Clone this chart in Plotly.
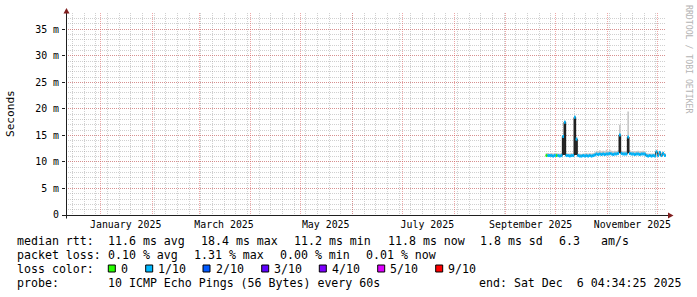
import plotly.graph_objects as go
import pandas as pd

# ---------------- data ----------------
range_start = "2024-12-11 04:34:25"
range_end = "2025-12-06 04:34:25"
first_day = "2025-09-25"

# daily median rtt (ms), Sep 25 .. Dec 6 2025
median_ms = [
    11.2, 11.2, 11.2, 11.2, 11.1, 11.2, 11.2, 11.2, 11.1, 11.2,
    14.8, 17.5, 11.2, 11.2, 11.1, 11.2, 11.2, 18.4, 14.3, 11.2,
    11.1, 11.1, 11.2, 11.1, 11.2, 11.1, 11.2, 11.1, 11.2, 11.3,
    11.5, 11.4, 11.5, 11.4, 11.5, 11.4, 11.5, 11.5, 11.6, 11.5,
    11.4, 11.5, 11.5, 11.6, 15.1, 11.6, 11.5, 11.5, 11.5, 14.7,
    11.6, 11.5, 11.5, 11.4, 11.5, 11.5, 11.4, 11.5, 11.5, 11.5,
    11.2, 11.1, 11.2, 11.1, 11.2, 11.1, 11.9, 11.2, 11.8, 11.2,
    11.6, 11.2, 11.2,
]
# upper edge of the light smoke (ms)
smoke_hi_ms = [
    11.7, 11.7, 11.6, 11.7, 11.6, 11.7, 11.7, 11.6, 11.6, 11.7,
    15.0, 17.8, 11.7, 11.6, 11.6, 11.7, 11.6, 18.7, 14.6, 11.6,
    11.6, 11.5, 11.6, 11.6, 11.7, 11.6, 11.7, 11.6, 11.7, 11.8,
    12.1, 12.0, 12.2, 12.0, 12.1, 12.0, 12.3, 12.0, 12.3, 12.1,
    12.0, 12.1, 12.0, 12.2, 17.0, 12.1, 12.0, 12.0, 12.1, 19.5,
    12.2, 12.0, 12.0, 12.0, 12.0, 12.1, 12.0, 12.0, 12.1, 12.0,
    11.7, 11.6, 11.6, 11.6, 11.6, 11.6, 12.3, 11.6, 12.1, 11.6,
    11.9, 11.6, 11.6,
]
# lower edge of the dense (dark) smoke on spike days (ms), None = no dense smoke
dense_lo_ms = [None] * len(median_ms)
for _i, _v in [(10, 11.3), (11, 11.3), (17, 11.3), (18, 11.3), (44, 11.6), (49, 11.6)]:
    dense_lo_ms[_i] = _v
# loss level per day (0 = none, 1 = 1/10)
loss_level = [0] + [1] * 5 + [0] + [1] * 66

month_grid = ["2025-%02d-01" % m for m in range(1, 13)]
month_label_dates = ["2025-01-16", "2025-03-16", "2025-05-16",
                     "2025-07-16", "2025-09-16", "2025-11-16"]
month_labels = ["January 2025", "March 2025", "May 2025",
                "July 2025", "September 2025", "November 2025"]
y_ticks = [0, 5, 10, 15, 20, 25, 30, 35]
y_ticktext = ["0"] + ["%d m" % v for v in y_ticks[1:]]

loss_names = ["0", "1/10", "2/10", "3/10", "4/10", "5/10", "9/10"]
loss_colors = ["#26ff00", "#00b8ff", "#0059ff", "#5e00ff", "#7e00ff", "#dd00ff", "#ff0000"]

stats_rtt = ["median rtt:", "11.6 ms avg", "18.4 ms max", "11.2 ms min",
             "11.8 ms now", "1.8 ms sd", "6.3", "am/s"]
stats_loss = ["packet loss:", "0.10 % avg", "1.31 % max", "0.00 % min", "0.01 % now"]
probe_text = ["probe:", "10 ICMP Echo Pings (56 Bytes) every 60s",
              "end: Sat Dec  6 04:34:25 2025"]

# ---------------- layout constants ----------------
W, H = 697, 297
L, R, T, B = 66, 666, 13, 215
YMAX = 38.07
FONT = "DejaVu Sans Mono"
DAY_MS = 86400000


def px(x):
    return (x - L) / (R - L)


def py(y):
    return (B - y) / (B - T)


days = pd.date_range(first_day, periods=len(median_ms), freq="D")
days_ext = list(days) + [pd.Timestamp(range_end)]
smoke_lo = [m - 0.15 for m in median_ms]

fig = go.Figure()

# empty helper trace so the grid axis (x2) is built
fig.add_trace(go.Scatter(x=[range_start, range_end], y=[None, None], xaxis="x2",
                         mode="lines", hoverinfo="skip", showlegend=False))
# dense smoke on spike days
dx, dbase, dh = [], [], []
for i, lo in enumerate(dense_lo_ms):
    if lo is not None:
        dx.append(days[i])
        dbase.append(lo)
        dh.append(median_ms[i] - lo)
fig.add_trace(go.Bar(x=dx, y=dh, base=dbase, width=DAY_MS, offset=0,
                     marker=dict(color="#262626", line=dict(width=0)),
                     hoverinfo="skip", showlegend=False))
# light smoke
fig.add_trace(go.Scatter(x=days_ext, y=smoke_lo + [smoke_lo[-1]], mode="lines",
                         line=dict(width=0, shape="hv"), hoverinfo="skip",
                         showlegend=False))
fig.add_trace(go.Scatter(x=days_ext, y=smoke_hi_ms + [smoke_hi_ms[-1]], mode="lines",
                         line=dict(width=0, shape="hv"), fill="tonexty",
                         fillcolor="#c8c8c8", hoverinfo="skip", showlegend=False))
# median line
fig.add_trace(go.Scatter(x=days_ext, y=median_ms + [median_ms[-1]], mode="lines",
                         line=dict(width=1, shape="hv", color="#202020"),
                         hoverinfo="skip", showlegend=False))
# loss-coloured swath
for lvl in sorted(set(loss_level)):
    xs, ys = [], []
    for i, m in enumerate(median_ms):
        if loss_level[i] == lvl:
            xs += [days_ext[i], days_ext[i + 1], None]
            ys += [m, m, None]
    fig.add_trace(go.Scatter(x=xs, y=ys, mode="lines",
                             line=dict(width=3, color=loss_colors[lvl]),
                             hoverinfo="skip", showlegend=False))

grid_minor = "rgba(143,143,143,0.42)"
grid_major = "rgba(222,79,79,0.5)"

fig.update_layout(
    width=W, height=H,
    margin=dict(l=L, r=W - R, t=T, b=H - B, pad=0),
    paper_bgcolor="white", plot_bgcolor="white",
    font=dict(family=FONT, color="black"),
    showlegend=False, bargap=0,
    xaxis=dict(type="date", range=[range_start, range_end],
               tickmode="array", tickvals=month_label_dates, ticktext=month_labels,
               showgrid=False, zeroline=False, showline=False, ticks="",
               tickfont=dict(family=FONT, size=9.9, color="black"),
               ticklabelstandoff=2),
    xaxis2=dict(type="date", range=[range_start, range_end], overlaying="x",
                anchor="y", side="bottom", tickmode="array", tickvals=month_grid,
                showticklabels=False, showgrid=True, gridcolor=grid_major,
                griddash="1px,1px", gridwidth=1, zeroline=False, showline=False,
                ticks="",
                minor=dict(tick0="2024-12-29", dtick=604800000, showgrid=True,
                           gridcolor=grid_minor, griddash="1px,1px", gridwidth=1)),
    yaxis=dict(range=[0, YMAX], tickmode="array", tickvals=y_ticks,
               ticktext=y_ticktext, showgrid=True, gridcolor=grid_major,
               griddash="1px,1px", zeroline=False, showline=False,
               ticks="outside", ticklen=3, tickcolor="#1f1f1f",
               tickfont=dict(family=FONT, size=9.9, color="black"),
               ticklabelstandoff=1,
               minor=dict(dtick=1, tick0=0, showgrid=True, gridcolor=grid_minor,
                          griddash="1px,1px")),
)

shapes = []
# axes
shapes.append(dict(type="line", xref="paper", yref="paper",
                   x0=px(63), x1=px(669), y0=py(215.5), y1=py(215.5),
                   line=dict(color="#1f1f1f", width=1)))
shapes.append(dict(type="line", xref="paper", yref="paper",
                   x0=px(66.5), x1=px(66.5), y0=py(218.5), y1=py(11),
                   line=dict(color="#1f1f1f", width=1)))
# arrows
shapes.append(dict(type="path", xref="paper", yref="paper",
                   path="M %f %f L %f %f L %f %f Z" % (px(63.5), py(13.5), px(69.5), py(13.5), px(66.5), py(8)),
                   fillcolor="#801f1f", line=dict(width=0)))
shapes.append(dict(type="path", xref="paper", yref="paper",
                   path="M %f %f L %f %f L %f %f Z" % (px(668), py(212.5), px(668), py(218.5), px(673.5), py(215.5)),
                   fillcolor="#801f1f", line=dict(width=0)))

annotations = []


def txt(s, x, y, size=11.6, color="black", anchor="left", angle=0, yanchor="middle"):
    annotations.append(dict(text=s, x=px(x), y=py(y), xref="paper", yref="paper",
                            xanchor=anchor, yanchor=yanchor, showarrow=False,
                            borderpad=0, textangle=angle,
                            font=dict(family=FONT, size=size, color=color)))


# y title and watermark
txt("Seconds", 10.7, 113.3, size=11.1, anchor="center", angle=-90)
txt("RRDTOOL / TOBI OETIKER", 689, 59, size=8.2, color="#b4b4b4", anchor="center", angle=90)

# legend lines
rtt_x = [16, 107.3, 200, 293.3, 386.7, 479.3, 558.3, 600]
for s, x in zip(stats_rtt, rtt_x):
    txt(s, x, 241)
loss_x = [16, 107.3, 193.3, 279.3, 365]
for s, x in zip(stats_loss, loss_x):
    txt(s, x, 255)
txt("loss color:", 16, 269.3)
sq_x = [108.3, 145.7, 203, 261.7, 319.3, 377.7, 435.7]
for name, col, x in zip(loss_names, loss_colors, sq_x):
    shapes.append(dict(type="rect", xref="paper", yref="paper",
                       x0=px(x), x1=px(x + 7), y0=py(265), y1=py(272),
                       fillcolor=col, line=dict(color="black", width=1)))
    txt(name, x + 11.5, 269.3)
probe_x = [16, 107.3, 478.3]
for s, x in zip(probe_text, probe_x):
    txt(s, x, 283.3)

fig.update_layout(shapes=shapes, annotations=annotations)
fig.write_html("out.html")
